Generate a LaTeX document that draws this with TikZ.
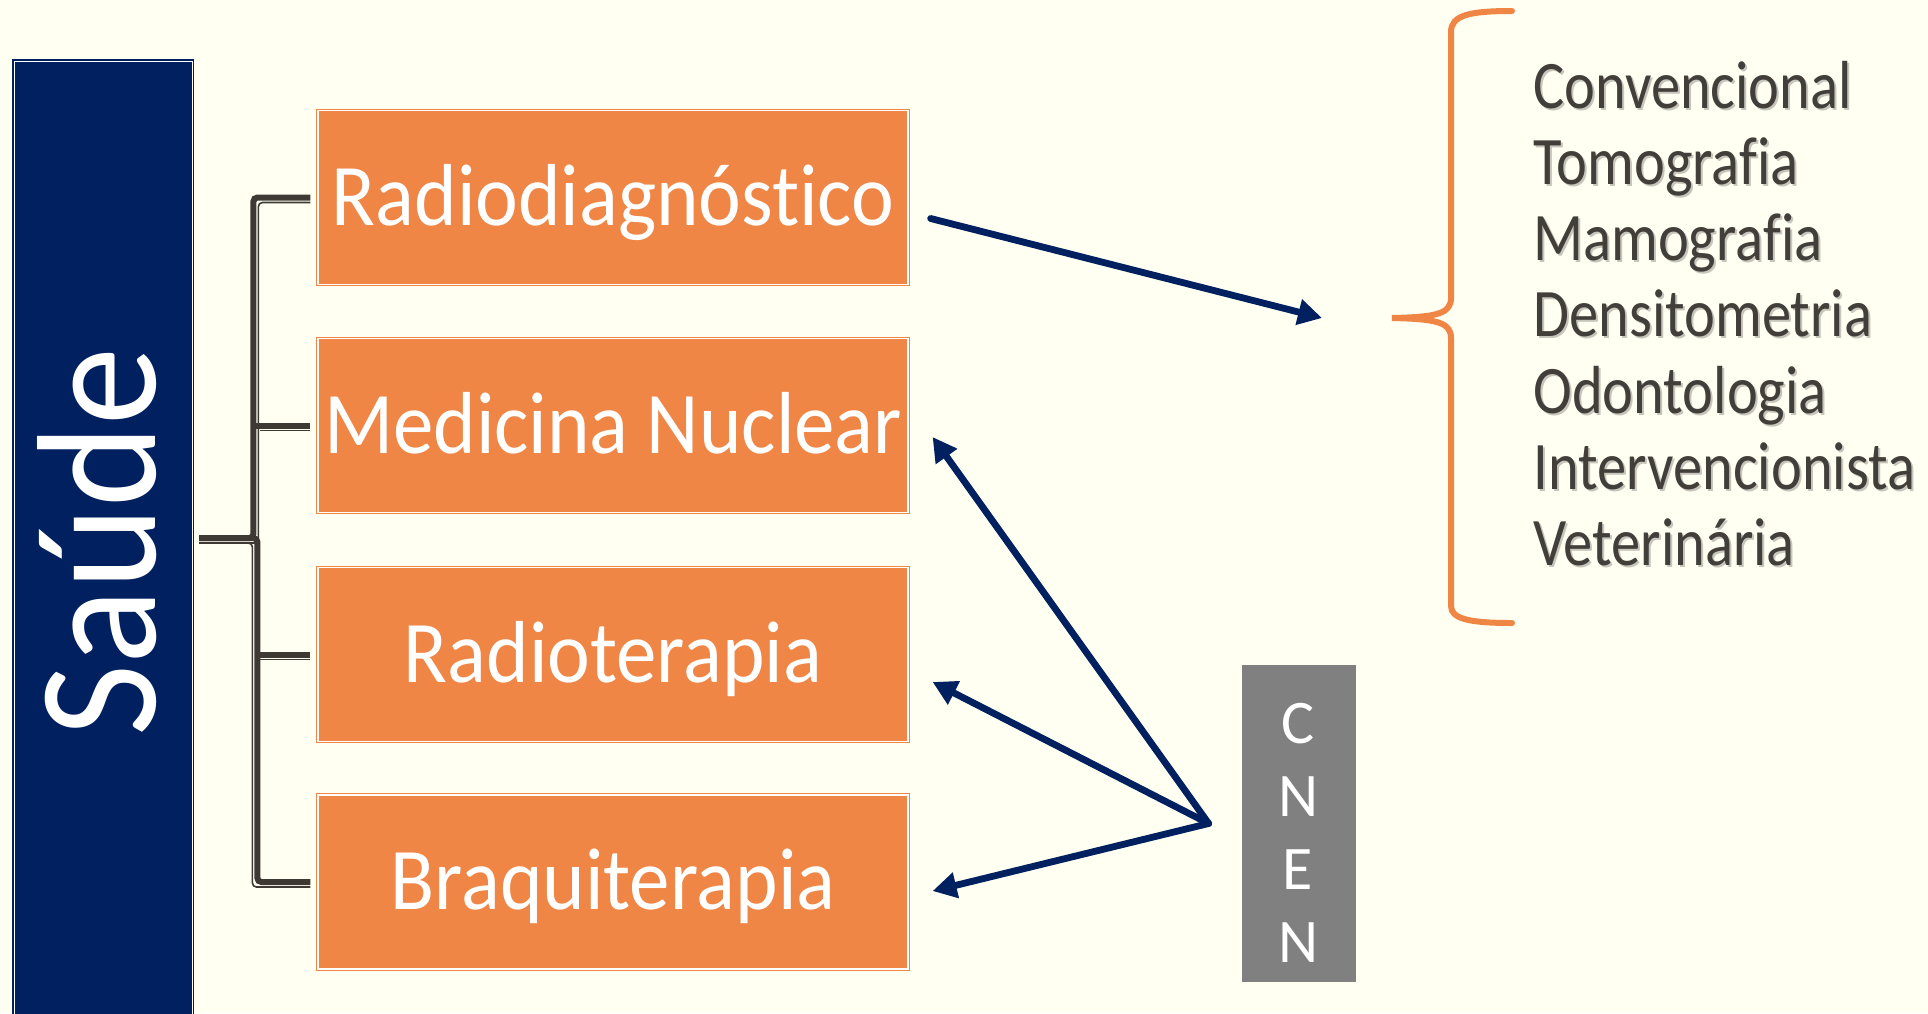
\documentclass[tikz,border=0pt]{standalone}
\usepackage{fontspec}
\setmainfont{Carlito}[Ligatures=NoCommon]
\newfontfamily\boxfont{Carlito}[FakeStretch=0.92,Ligatures=NoCommon]
\newfontfamily\listfont{Carlito}[FakeStretch=0.86,Ligatures=NoCommon]
\usetikzlibrary{arrows.meta,calc}

\definecolor{bgcream}{RGB}{255,255,242}
\definecolor{navy}{RGB}{0,32,96}
\definecolor{boxorange}{RGB}{240,134,70}
\definecolor{treedark}{RGB}{62,57,51}
\definecolor{listgray}{RGB}{66,62,58}
\definecolor{shadowgray}{RGB}{200,198,188}
\definecolor{cnengray}{RGB}{128,128,128}

\begin{document}
\begin{tikzpicture}[x=0.5pt,y=-0.5pt,
  saudebox/.style={rectangle, fill=navy, draw=navy, double=white,
    double distance=0.5pt, line width=0.7pt, inner sep=0pt,
    minimum width=89pt, minimum height=490pt},
  topic/.style={rectangle, fill=boxorange, draw=boxorange, double=white,
    double distance=0.7pt, line width=0.6pt, inner sep=0pt,
    minimum width=295pt, minimum height=87pt, text=white,
    font=\boxfont\fontsize{44}{50}\selectfont,
    text height=27.8pt, text depth=0pt},
  listitem/.style={anchor=base west, inner sep=0pt, text=listgray,
    font=\listfont\fontsize{34}{38}\selectfont},
  listshadow/.style={listitem, text=shadowgray},
  cnenbox/.style={rectangle, fill=cnengray, inner sep=0pt,
    minimum width=57pt, minimum height=158.5pt},
  arr/.style={draw=navy, line width=3.4pt, line cap=round,
    -{Triangle[length=12pt,width=12.5pt]}},
  treethick/.style={draw=treedark, line width=3pt, rounded corners=2pt},
  treethin/.style={draw=treedark, line width=0.8pt, rounded corners=2pt},
  bracestyle/.style={draw=boxorange, line width=3pt, line cap=round}
]
% page and background
\useasboundingbox (0,0) rectangle (1928,1013);
\fill[bgcream] (0,0) rectangle (1928,1013);

% left column
\node[saudebox] (saude) at (103,551) {};
\node[rotate=90, anchor=base, inner sep=0pt, text=white,
  font=\boxfont\fontsize{85}{90}\selectfont] (saudelabel) at (155,542) {Saúde};

% the four areas
\node[topic] (rd) at (613,197.5) {Radiodiagnóstico};
\node[topic] (mn) at (613,425.5) {Medicina Nuclear};
\node[topic] (rt) at (613,654.5) {Radioterapia};
\node[topic] (bq) at (613,882)   {Braquiterapia};

% tree from Saúde to the areas (thick line with a thin companion line)
\coordinate (stub) at (199,538);
\draw[treethin] ([shift={(0,5)}]stub) -| ([shift={(-59,5)}]rd.west) -- ([shift={(-7,5)}]rd.west);
\draw[treethin] ([shift={(0,5)}]stub) -| ([shift={(-65,5)}]bq.west) -- ([shift={(-7,5)}]bq.west);
\draw[treethin] ([shift={(-57,5)}]mn.west) -- ([shift={(-7,5)}]mn.west);
\draw[treethin] ([shift={(-57,5)}]rt.west) -- ([shift={(-7,5)}]rt.west);
\draw[treethick] (stub) -| ([shift={(-64,0)}]rd.west) -- ([shift={(-7,0)}]rd.west);
\draw[treethick] (stub) -| ([shift={(-60,0)}]bq.west) -- ([shift={(-7,0)}]bq.west);
\draw[treethick] ([shift={(-64,0)}]mn.west) -- ([shift={(-7,0)}]mn.west);
\draw[treethick] ([shift={(-60,0)}]rt.west) -- ([shift={(-7,0)}]rt.west);

% brace with the list of modalities
\coordinate (bracetip) at (1392,318);
\draw[bracestyle] (1512,11) .. controls (1470,11) and (1451,15) .. (1451,32)
  -- (1451,298) .. controls (1451,314) and (1436,317) .. (bracetip)
  .. controls (1436,319) and (1451,322) .. (1451,338)
  -- (1451,606) .. controls (1451,619) and (1470,623) .. (1512,623);

\foreach \t [count=\i] in {Convencional,Tomografia,Mamografia,Densitometria,
  Odontologia,Intervencionista,Veterinária} {
  \node[listshadow] (sh\i) at (1535,{110+76.3*(\i-1)}) {\t};
  \node[listitem] (li\i) at (1533,{108+76.3*(\i-1)}) {\t};
}

% arrow from Radiodiagnóstico to the brace
\coordinate (rdout) at ([shift={(22,21)}]rd.east);
\draw[arr] (rdout) -- ([shift={(-70,0)}]bracetip);

% CNEN
\node[cnenbox] (cnen) at (1299,823.5) {};
\node[inner sep=0pt, text=white, align=center,
  font=\fontsize{31}{36.5}\selectfont] (cnenlabel) at (1298,833) {C\\N\\E\\N};
\coordinate (hub) at ([shift={(-33,0)}]cnen.west);
\draw[arr] (hub) -- ([shift={(24,11.5)}]mn.east);
\draw[arr] (hub) -- ([shift={(24,27.5)}]rt.east);
\draw[arr] (hub) -- ([shift={(24,9)}]bq.east);
\end{tikzpicture}
\end{document}
